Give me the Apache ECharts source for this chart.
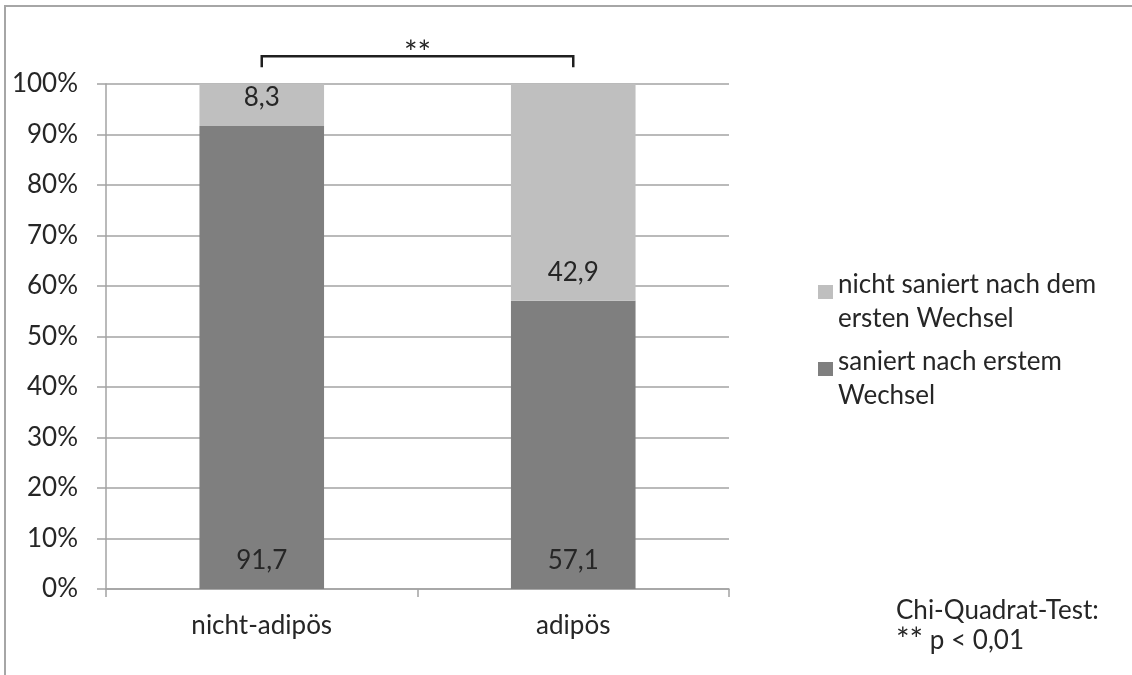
<!DOCTYPE html>
<html>
<head>
<meta charset="utf-8">
<script src="https://cdn.jsdelivr.net/npm/echarts@6/dist/echarts.min.js"></script>
<style>
  html, body { margin: 0; padding: 0; background: #fff; }
  #chart { width: 1132px; height: 675px; }
</style>
</head>
<body>
<div id="chart"></div>
<script>
// Groups on the x axis
const categories = ['nicht-adipös', 'adipös'];
// Share of cases (%) per group
const sanierValues = [91.7, 57.1];
const nichtSaniertValues = [8.3, 42.9];
// Series names shown in the legend
const seriesNames = ['saniert nach erstem Wechsel', 'nicht saniert nach dem ersten Wechsel'];
// Legend text lines, wrapped as printed
const legendLines = {
  'nicht saniert nach dem ersten Wechsel': ['nicht saniert nach dem', 'ersten Wechsel'],
  'saniert nach erstem Wechsel': ['saniert nach erstem', 'Wechsel']
};
// Significance annotation
const sigMark = '**';
const noteTitle = 'Chi-Quadrat-Test:';
const noteText = ' p < 0,01';

const FONT = 'Lato, "Open Sans", sans-serif';
const TEXT = '#262626';
const GRID = '#a3a3a3';

const chart = echarts.init(document.getElementById('chart'), null, { renderer: 'canvas' });

const fmt = p => String(p.value).replace('.', ',');
const labelStyle = {
  show: true,
  position: 'insideBottom',
  distance: 15,
  formatter: fmt,
  color: TEXT,
  fontFamily: FONT,
  fontSize: 26,
  lineHeight: 26
};

chart.setOption({
  animation: false,
  backgroundColor: '#fff',
  textStyle: { fontFamily: FONT },
  grid: { left: 106, right: 403, top: 84, bottom: 86, containLabel: false },
  xAxis: {
    type: 'category',
    data: categories,
    axisLine: { lineStyle: { color: GRID, width: 1.5 } },
    axisTick: { show: true, alignWithLabel: false, length: 8, lineStyle: { color: GRID, width: 1.5 } },
    axisLabel: { color: TEXT, fontFamily: FONT, fontSize: 26, margin: 24 }
  },
  yAxis: {
    type: 'value',
    min: 0,
    max: 100,
    interval: 10,
    axisLine: { show: true, lineStyle: { color: GRID, width: 1.5 } },
    axisTick: { show: true, length: 9, lineStyle: { color: GRID, width: 1.5 } },
    splitLine: { show: true, lineStyle: { color: GRID, width: 1.5 } },
    axisLabel: { color: TEXT, fontFamily: FONT, fontSize: 26, margin: 28, formatter: v => v + '%' }
  },
  legend: {
    orient: 'vertical',
    left: 813,
    top: 248,
    itemWidth: 15,
    itemHeight: 14,
    itemGap: -2,
    icon: 'rect',
    data: [seriesNames[1], seriesNames[0]],
    // a short spacer line on top keeps the marker level with the first text line
    formatter: name => '{e| }\n' + legendLines[name].map(l => '{t|' + l + '}').join('\n'),
    textStyle: {
      color: TEXT,
      fontFamily: FONT,
      fontSize: 26,
      rich: {
        e: { fontSize: 10, lineHeight: 20 },
        t: { color: TEXT, fontFamily: FONT, fontSize: 26, lineHeight: 34 }
      }
    }
  },
  series: [
    {
      name: seriesNames[0],
      type: 'bar',
      stack: 'total',
      barWidth: '40%',
      data: sanierValues,
      itemStyle: { color: '#7f7f7f' },
      label: labelStyle
    },
    {
      name: seriesNames[1],
      type: 'bar',
      stack: 'total',
      barWidth: '40%',
      data: nichtSaniertValues,
      itemStyle: { color: '#bfbfbf' },
      label: labelStyle
    }
  ]
});

// Significance bracket between the two groups, placed above the 100 % line
const p0 = chart.convertToPixel({ seriesIndex: 0 }, [0, 105.5]);
const p1 = chart.convertToPixel({ seriesIndex: 0 }, [1, 105.5]);
const tailY = chart.convertToPixel({ seriesIndex: 0 }, [0, 103.3])[1];
const midX = (p0[0] + p1[0]) / 2;

chart.setOption({
  graphic: [
    {
      type: 'rect',
      silent: true,
      shape: { x: 5, y: 6, width: 1200, height: 800 },
      style: { fill: 'none', stroke: '#a6a6a6', lineWidth: 2 }
    },
    {
      type: 'polyline',
      silent: true,
      shape: { points: [[p0[0], tailY], [p0[0], p0[1]], [p1[0], p1[1]], [p1[0], tailY]] },
      style: { fill: 'none', stroke: '#1f1f1f', lineWidth: 2.5 }
    },
    {
      type: 'text',
      silent: true,
      x: midX,
      y: p0[1] - 3,
      style: { text: sigMark, fill: TEXT, font: '32px ' + FONT, align: 'center', verticalAlign: 'middle' }
    },
    {
      type: 'text',
      silent: true,
      x: 896,
      y: 596,
      style: {
        text: '{t|' + noteTitle + '}\n{s|' + sigMark + '}{t|' + noteText + '}',
        fill: TEXT,
        align: 'left',
        verticalAlign: 'top',
        rich: {
          t: { fill: TEXT, fontFamily: FONT, fontSize: 26, lineHeight: 30 },
          s: { fill: TEXT, fontFamily: FONT, fontSize: 32, lineHeight: 30 }
        }
      }
    }
  ]
});
</script>
</body>
</html>
